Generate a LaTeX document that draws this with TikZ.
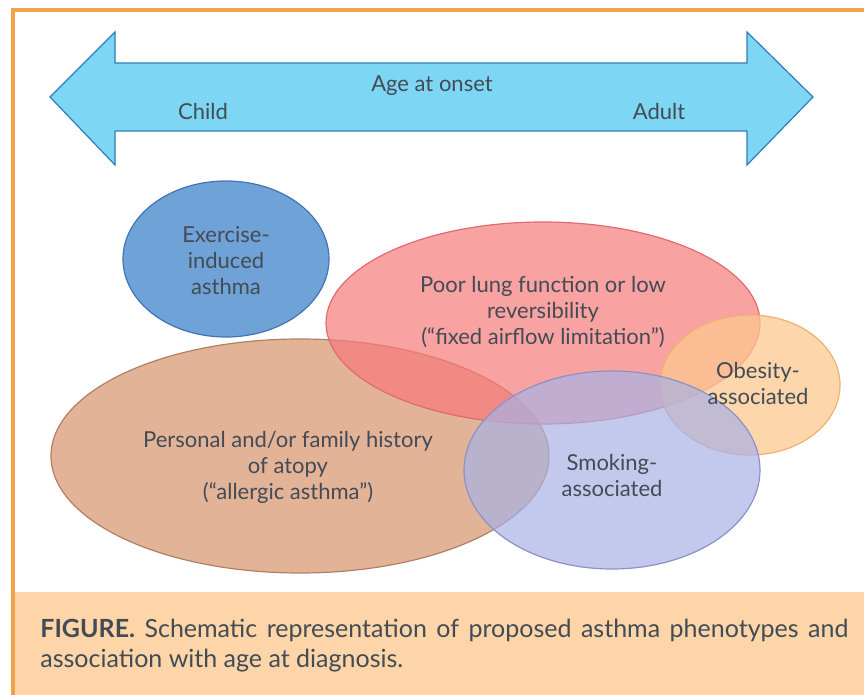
\documentclass[tikz,border=0pt]{standalone}
\usepackage{fontspec}
\setmainfont{Lato}
\usepackage{tikz}
\usetikzlibrary{positioning}

\definecolor{framecol}{HTML}{F5A04A}
\definecolor{capfill}{HTML}{FDD5A8}
\definecolor{arrowfill}{HTML}{7DD6F4}
\definecolor{arrowline}{HTML}{2F7DB8}
\definecolor{txtcol}{HTML}{434B55}
\definecolor{exfill}{HTML}{6FA3D8}
\definecolor{exline}{HTML}{3F75B5}
\definecolor{lungfill}{HTML}{F77A7A}
\definecolor{lungline}{HTML}{E06A72}
\definecolor{atofill}{HTML}{DCA07E}
\definecolor{atoline}{HTML}{B08066}
\definecolor{obfill}{HTML}{FCC890}
\definecolor{obline}{HTML}{F0B070}
\definecolor{smfill}{HTML}{A8B2E4}
\definecolor{smline}{HTML}{8A92C8}

\tikzset{
  lbl/.style={text=txtcol, align=center, font=\fontsize{11}{13}\selectfont, inner sep=0pt},
  blob/.style={line width=0.6pt, fill opacity=#1},
  blob/.default=0.7
}

\begin{document}
\begin{tikzpicture}[x=0.5pt,y=-0.5pt]

\useasboundingbox (0,0) rectangle (864,695);

% frame and caption band
\fill[capfill] (13,592) rectangle (870,700);
\draw[framecol, line width=2pt] (13,700) -- (13,10) -- (870,10);

% age arrow
\coordinate (tipL) at (50,97);
\coordinate (tipR) at (813,97);
\draw[arrowline, fill=arrowfill, line width=0.6pt]
  (tipL) -- (115,32) -- (115,63) -- (747,63) -- (747,32) -- (tipR)
  -- (747,165) -- (747,131) -- (115,131) -- (115,165) -- cycle;

\node[lbl] (onset) at (432,86) {Age at onset};
\node[lbl] (child) at (203,111) {Child};
\node[lbl] (adult) at (659,111) {Adult};

% phenotypes
\draw[blob=1, exline, fill=exfill] (226,259) ellipse (103 and 78);
\draw[blob=0.8, atoline, fill=atofill] (300,456) ellipse (249 and 117);
\draw[blob=0.7, lungline, fill=lungfill] (543,323) ellipse (217 and 101);
\draw[blob=0.75, obline, fill=obfill] (750,385) ellipse (90 and 70);
\draw[blob=0.7, smline, fill=smfill] (612,470) ellipse (148 and 99);

\node[lbl] (exercise) at (226,261) {Exercise-\\induced\\asthma};
\node[lbl] (lung) at (543,312) {Poor lung function or low\\reversibility\\(``fixed airflow limitation'')};
\node[lbl] (atopy) at (288,467) {Personal and/or family history\\of atopy\\(``allergic asthma'')};
\node[lbl] (obesity) at (758,383) {Obesity-\\associated};
\node[lbl] (smoking) at (612,475) {Smoking-\\associated};

% caption
\node[anchor=base west, inner sep=0pt, text=txtcol, font=\fontsize{12.5}{15}\selectfont] (cap1) at (40,638)
  {\makebox[404pt][s]{\textbf{FIGURE.} Schematic representation of proposed asthma phenotypes and}};
\node[anchor=base west, inner sep=0pt, text=txtcol, font=\fontsize{12.5}{15}\selectfont] (cap2) at (40,668)
  {association with age at diagnosis.};

\end{tikzpicture}
\end{document}
